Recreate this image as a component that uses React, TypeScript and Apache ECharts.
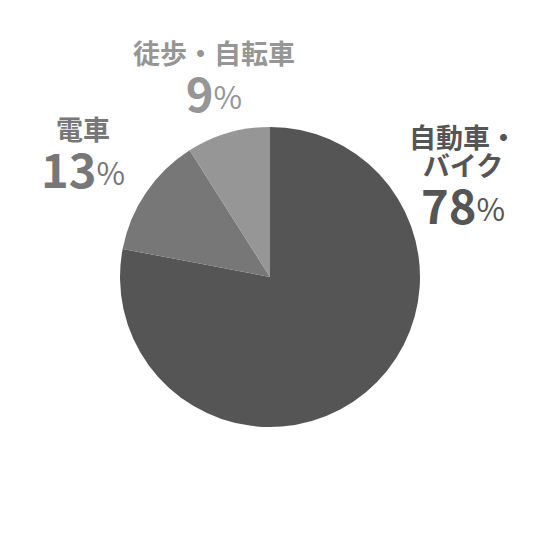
import { useEffect, useRef } from "react";
import * as echarts from "echarts";

const labels = ["自動車・\nバイク", "電車", "徒歩・自転車"];
const values = [78, 13, 9];
const colors = ["#555555", "#777777", "#969696"];

// label anchor (center-top) for each slice
const labelPos = [
  [463, 122],
  [83, 114],
  [214, 38],
];

export default function App() {
  const containerRef = useRef<HTMLDivElement>(null);

  useEffect(() => {
    if (!containerRef.current) return;
    const chart = echarts.init(containerRef.current, null, { renderer: "svg" });

    chart.setOption({
      animation: false,
      backgroundColor: "#ffffff",
      series: [
        {
          type: "pie",
          center: [270, 277],
          radius: [0, 150],
          startAngle: 90,
          clockwise: true,
          silent: true,
          labelLine: { show: false },
          data: values.map((v, i) => ({
            name: labels[i],
            value: v,
            itemStyle: { color: colors[i] },
            label: {
              color: colors[i],
              rich: {
                name: { color: colors[i] },
                num: { color: colors[i] },
                pct: { color: colors[i] },
              },
            },
          })),
          label: {
            show: true,
            position: "outside",
            align: "center",
            fontFamily: "'Noto Sans CJK JP', sans-serif",
            formatter: (p: any) => `{name|${p.name}}\n{num|${p.value}}{pct|%}`,
            rich: {
              name: {
                fontSize: 27,
                fontWeight: "bold",
                lineHeight: 28,
                align: "center",
                fontFamily: "'Noto Sans CJK JP', sans-serif",
              },
              num: {
                fontSize: 47,
                fontWeight: "bold",
                lineHeight: 50,
                fontFamily: "'Noto Sans CJK JP', sans-serif",
              },
              pct: {
                fontSize: 31,
                fontWeight: "normal",
                lineHeight: 50,
                fontFamily: "'Noto Sans CJK JP', sans-serif",
                verticalAlign: "bottom",
                padding: [0, 0, 5, 0],
              },
            },
          },
          labelLayout: (p: any) => ({
            x: labelPos[p.dataIndex][0],
            y: labelPos[p.dataIndex][1],
            align: "center",
            verticalAlign: "top",
          }),
        },
      ],
    });

    return () => chart.dispose();
  }, []);

  return (
    <div
      ref={containerRef}
      style={{ position: "fixed", left: 0, top: 0, width: 540, height: 540 }}
    />
  );
}
